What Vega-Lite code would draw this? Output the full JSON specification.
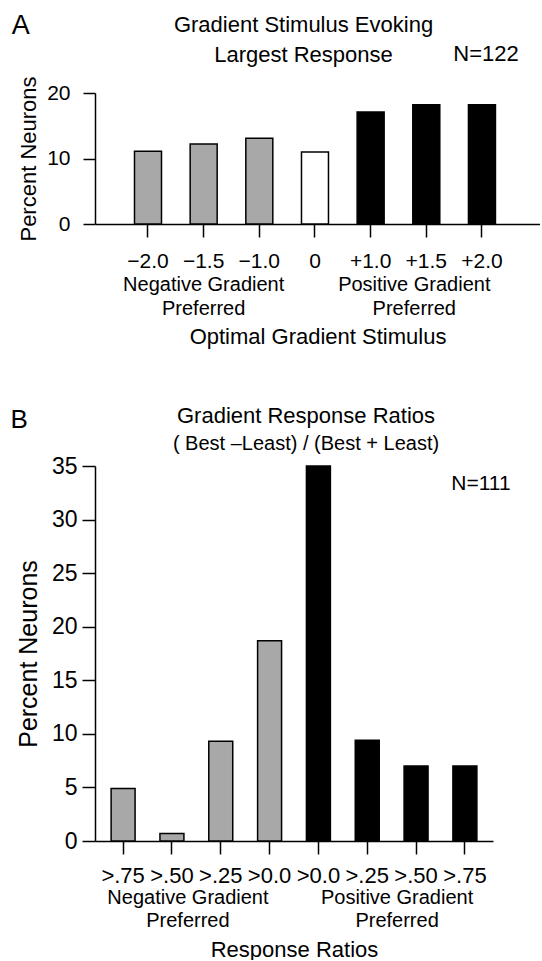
{
  "$schema": "https://vega.github.io/schema/vega-lite/v6.json",
  "padding": {"left": 10, "right": 0, "top": 11, "bottom": 0},
  "config": {
    "font": "Liberation Sans",
    "view": {"stroke": null},
    "axis": {"domainColor": "black", "tickColor": "black", "labelColor": "black", "titleColor": "black", "domainWidth": 1.5, "tickWidth": 1.5, "grid": false, "titleFontWeight": "normal", "labelOverlap": false},
    "title": {"color": "black", "fontWeight": "normal", "subtitleColor": "black"},
    "text": {"color": "black"}
  },
  "spacing": 58,
  "vconcat": [
    {
      "title": {"text": "A", "anchor": "start", "frame": "bounds", "fontSize": 27, "offset": -26, "dx": -6},
      "vconcat": [
        {
          "width": 445,
          "height": 131,
          "title": {"text": ["Gradient Stimulus Evoking", "Largest Response"], "fontSize": 22, "lineHeight": 30, "anchor": "middle", "dx": -14, "offset": -24},
          "data": {"values": [
            {"cat": "−2.0", "pct": 11.1, "grp": "neg"},
            {"cat": "−1.5", "pct": 12.2, "grp": "neg"},
            {"cat": "−1.0", "pct": 13.1, "grp": "neg"},
            {"cat": "0", "pct": 11.0, "grp": "zero"},
            {"cat": "+1.0", "pct": 17.1, "grp": "pos"},
            {"cat": "+1.5", "pct": 18.2, "grp": "pos"},
            {"cat": "+2.0", "pct": 18.2, "grp": "pos"}
          ]},
          "layer": [
            {
              "mark": {"type": "bar", "stroke": "black", "strokeWidth": 1.5},
              "encoding": {
                "x": {"field": "cat", "type": "nominal", "sort": null,
                  "scale": {"paddingInner": 0.515, "paddingOuter": 0.755, "align": 0.47},
                  "axis": {"title": "Optimal Gradient Stimulus", "titleFontSize": 22, "titlePadding": 55, "labelFontSize": 21, "labelAngle": 0, "tickSize": 13, "labelPadding": 13}},
                "y": {"field": "pct", "type": "quantitative",
                  "scale": {"domain": [0, 20]},
                  "axis": {"title": "Percent Neurons", "titleFontSize": 22, "titlePadding": 6, "labelFontSize": 21, "values": [0, 5, 10, 15, 20], "labelExpr": "datum.value % 10 === 0 ? datum.label : ''", "tickSize": 12, "labelPadding": 13}},
                "fill": {"field": "grp", "type": "nominal", "scale": {"domain": ["neg", "zero", "pos"], "range": ["#a8a8a8", "#ffffff", "#000000"]}, "legend": null}
              }
            },
            {
              "data": {"values": [{}]},
              "mark": {"type": "text", "text": "Negative Gradient\nPreferred", "lineBreak": "\n", "fontSize": 20, "lineHeight": 24, "baseline": "top", "align": "center", "dy": 51},
              "encoding": {"x": {"datum": "−1.5", "type": "nominal"}, "y": {"datum": 0, "type": "quantitative"}}
            },
            {
              "data": {"values": [{}]},
              "mark": {"type": "text", "text": "Positive Gradient\nPreferred", "lineBreak": "\n", "fontSize": 20, "lineHeight": 24, "baseline": "top", "align": "center", "dy": 51, "dx": -12},
              "encoding": {"x": {"datum": "+1.5", "type": "nominal"}, "y": {"datum": 0, "type": "quantitative"}}
            },
            {
              "data": {"values": [{}]},
              "mark": {"type": "text", "text": "N=122", "fontSize": 22, "baseline": "middle", "align": "center", "dx": 4},
              "encoding": {"x": {"datum": "+2.0", "type": "nominal"}, "y": {"datum": 26, "type": "quantitative"}}
            }
          ]
        }
      ]
    },
    {
      "title": {"text": "B", "anchor": "start", "frame": "bounds", "fontSize": 26, "offset": -28, "dx": -6},
      "vconcat": [
        {
          "width": 398,
          "height": 375,
          "title": {"text": "Gradient Response Ratios", "subtitle": "( Best –Least) / (Best + Least)", "fontSize": 22, "subtitleFontSize": 20, "subtitlePadding": 6, "anchor": "middle", "dx": 12, "offset": 0},
          "data": {"values": [
            {"cat": "n>.75", "pct": 4.9, "grp": "neg"},
            {"cat": "n>.50", "pct": 0.7, "grp": "neg"},
            {"cat": "n>.25", "pct": 9.3, "grp": "neg"},
            {"cat": "n>0.0", "pct": 18.7, "grp": "neg"},
            {"cat": "p>0.0", "pct": 35.0, "grp": "pos"},
            {"cat": "p>.25", "pct": 9.4, "grp": "pos"},
            {"cat": "p>.50", "pct": 7.0, "grp": "pos"},
            {"cat": "p>.75", "pct": 7.0, "grp": "pos"}
          ]},
          "layer": [
            {
              "mark": {"type": "bar", "stroke": "black", "strokeWidth": 1.5},
              "encoding": {
                "x": {"field": "cat", "type": "nominal", "sort": null,
                  "scale": {"paddingInner": 0.509, "paddingOuter": 0.33, "align": 0.5},
                  "axis": {"title": "Response Ratios", "titleFontSize": 22, "titlePadding": 53, "labelFontSize": 22, "labelAngle": 0, "tickSize": 13, "labelPadding": 11, "labelExpr": "substring(datum.label, 1)"}},
                "y": {"field": "pct", "type": "quantitative",
                  "scale": {"domain": [0, 35]},
                  "axis": {"title": "Percent Neurons", "titleFontSize": 25, "titlePadding": 10, "labelFontSize": 23, "values": [0, 5, 10, 15, 20, 25, 30, 35], "tickSize": 13, "labelPadding": 5}},
                "fill": {"field": "grp", "type": "nominal", "scale": {"domain": ["neg", "zero", "pos"], "range": ["#a8a8a8", "#ffffff", "#000000"]}, "legend": null}
              }
            },
            {
              "data": {"values": [{}]},
              "mark": {"type": "text", "text": "Negative Gradient\nPreferred", "lineBreak": "\n", "fontSize": 20, "lineHeight": 23, "baseline": "top", "align": "center", "dy": 47, "dx": 16},
              "encoding": {"x": {"datum": "n>.50", "type": "nominal"}, "y": {"datum": 0, "type": "quantitative"}}
            },
            {
              "data": {"values": [{}]},
              "mark": {"type": "text", "text": "Positive Gradient\nPreferred", "lineBreak": "\n", "fontSize": 20, "lineHeight": 23, "baseline": "top", "align": "center", "dy": 47, "dx": -19},
              "encoding": {"x": {"datum": "p>.50", "type": "nominal"}, "y": {"datum": 0, "type": "quantitative"}}
            },
            {
              "data": {"values": [{}]},
              "mark": {"type": "text", "text": "N=111", "fontSize": 21, "baseline": "middle", "align": "center", "dx": 16},
              "encoding": {"x": {"datum": "p>.75", "type": "nominal"}, "y": {"datum": 33.3, "type": "quantitative"}}
            }
          ]
        }
      ]
    }
  ]
}
